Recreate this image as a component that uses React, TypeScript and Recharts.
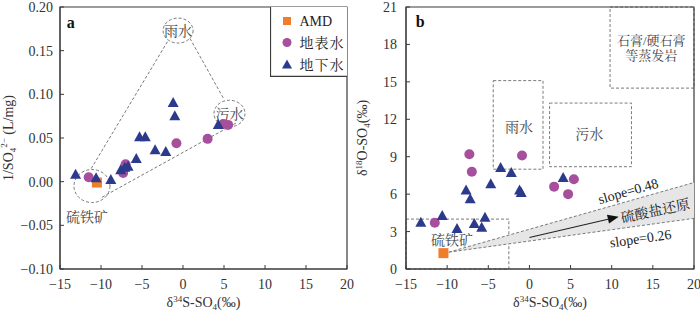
import React from 'react';
import {
  ScatterChart,
  Scatter,
  XAxis,
  YAxis,
  ReferenceArea,
  ReferenceLine,
  ReferenceDot,
  Legend
} from 'recharts';

const SERIF = "'Liberation Serif', 'Times New Roman', serif";
const CJK = "'Liberation Serif', 'Noto Serif CJK SC', 'Noto Sans CJK SC', serif";

const ORANGE = '#f07d2a';
const PURPLE = '#a64f9c';
const NAVY = '#2c3a8c';
const FRAME = '#3a3a3a';
const DASH = '#7a7a7a';
const TEXT = '#333';
const NOTE = '#444';

// 刻度
const xTicks = [-15, -10, -5, 0, 5, 10, 15, 20];
const yTicksA = [-0.1, -0.05, 0, 0.05, 0.1, 0.15, 0.2];
const yTicksB = [0, 3, 6, 9, 12, 15, 18, 21];

// 图a：δ34S-SO4 vs 1/SO4
const amdA = [{ x: -10.5, y: -0.001 }];
const surfaceA = [
  { x: -11.5, y: 0.005 },
  { x: -7.3, y: 0.010 },
  { x: -7.0, y: 0.020 },
  { x: -0.8, y: 0.044 },
  { x: 3.0, y: 0.049 },
  { x: 4.9, y: 0.066 },
  { x: 5.5, y: 0.065 }
];
const groundA = [
  { x: -13.1, y: 0.008 },
  { x: -10.6, y: 0.004 },
  { x: -8.8, y: 0.002 },
  { x: -7.6, y: 0.013 },
  { x: -7.1, y: 0.016 },
  { x: -6.7, y: 0.017 },
  { x: -5.7, y: 0.026 },
  { x: -5.3, y: 0.051 },
  { x: -4.6, y: 0.051 },
  { x: -3.4, y: 0.036 },
  { x: -2.1, y: 0.034 },
  { x: -1.2, y: 0.090 },
  { x: -1.0, y: 0.075 },
  { x: 4.3, y: 0.065 }
];

// 图a 端元圈（雨水、污水、硫铁矿）及连线
const rainA = { x: -0.6, y: 0.173 };
const sewageA = { x: 5.67, y: 0.078 };
const pyriteA = { x: -11.1, y: -0.005 };
const hullA = [
  [{ x: -11.2, y: 0.015 }, { x: -1.85, y: 0.161 }],
  [{ x: 0.85, y: 0.164 }, { x: 4.9, y: 0.096 }],
  [{ x: 6.45, y: 0.067 }, { x: -10.1, y: -0.019 }]
];
const notesA = [
  { x: -0.6, y: 0.173, text: '雨水' },
  { x: 5.67, y: 0.078, text: '污水' },
  { x: -11.7, y: -0.040, text: '硫铁矿' }
];
const letterA = { x: -13.7, y: 0.183, text: 'a' };

// 图b：δ34S-SO4 vs δ18O-SO4
const amdB = [{ x: -10.45, y: 1.27 }];
const surfaceB = [
  { x: -11.5, y: 3.7 },
  { x: -7.3, y: 9.2 },
  { x: -7.0, y: 7.8 },
  { x: -0.9, y: 9.1 },
  { x: 3.0, y: 6.6 },
  { x: 4.7, y: 6.0 },
  { x: 5.4, y: 7.2 }
];
const groundB = [
  { x: -13.2, y: 3.7 },
  { x: -10.6, y: 4.25 },
  { x: -8.8, y: 3.2 },
  { x: -7.7, y: 6.3 },
  { x: -7.2, y: 5.6 },
  { x: -6.7, y: 3.6 },
  { x: -5.8, y: 3.3 },
  { x: -5.4, y: 4.1 },
  { x: -4.7, y: 6.8 },
  { x: -3.5, y: 8.1 },
  { x: -2.2, y: 7.7 },
  { x: -1.2, y: 6.3 },
  { x: -1.0, y: 6.1 },
  { x: 4.1, y: 7.3 }
];

// 图b 端元范围框
const zonesB = [
  { x1: -4.4, x2: 1.65, y1: 8.0, y2: 15.1 },
  { x1: 2.45, x2: 12.4, y1: 8.2, y2: 13.3 },
  { x1: 9.8, x2: 20, y1: 14.5, y2: 21 },
  { x1: -15, x2: -2.5, y1: 0, y2: 4.0 }
];
// 硫酸盐还原楔形区 (起点, slope=0.48 端, slope=0.26 端) 和箭头
const wedgeB = [{ x: -9.8, y: 1.35 }, { x: 20, y: 6.93 }, { x: 20, y: 4.06 }];
const arrowB = [{ x: 0, y: 2.52 }, { x: 10.85, y: 4.19 }];
const notesB = [
  { x: -1.27, y: 11.4, text: '雨水' },
  { x: 7.26, y: 10.83, text: '污水' },
  { x: -9.42, y: 2.33, text: '硫铁矿' }
];
const evaporiteB = [
  { x: 14.8, y: 18.3, text: '石膏/硬石膏' },
  { x: 14.8, y: 17.15, text: '等蒸发岩' }
];
const slopeNotesB = [
  { x: 12.0, y: 6.26, text: 'slope=0.48' },
  { x: 15.3, y: 4.67, text: '硫酸盐还原' },
  { x: 13.5, y: 2.47, text: 'slope=0.26' }
];
const slopeAngles = [-16, -12, -8];
const letterB = { x: -13.27, y: 19.85, text: 'b' };

const fmtX = (v: number) => (v < 0 ? '\u2212' + Math.abs(v) : String(v));
const fmtYA = (v: number) => (v < 0 ? '\u2212' : '') + Math.abs(v).toFixed(2);

// 标记形状
const SquareMark = (p: any) => <rect x={p.cx - 5} y={p.cy - 5} width={10} height={10} fill={ORANGE} />;
const CircleMark = (p: any) => <circle cx={p.cx} cy={p.cy} r={5} fill={PURPLE} />;
const TriangleMark = (p: any) => (
  <polygon
    points={`${p.cx},${p.cy - 6} ${p.cx - 5.5},${p.cy + 4} ${p.cx + 5.5},${p.cy + 4}`}
    fill={NAVY}
  />
);

const Note = ({ cx, cy, text, size = 14, weight = 'normal', angle = 0, color = NOTE }: any) => (
  <text
    x={cx}
    y={cy}
    dy="0.36em"
    textAnchor="middle"
    fontSize={size}
    fontWeight={weight}
    fill={color}
    fontFamily={CJK}
    transform={angle ? `rotate(${angle} ${cx} ${cy})` : undefined}
  >
    {text}
  </text>
);

const ellipse = (rx: number, ry: number) => (p: any) => (
  <ellipse cx={p.cx} cy={p.cy} rx={rx} ry={ry} fill="none" stroke={DASH} strokeDasharray="3 2" />
);

// 楔形区：灰色填充 + 两条虚线
const wedgeShape = (p: any) => {
  const [a, b, c] = p.points;
  return (
    <g>
      <polygon points={`${a.x},${a.y} ${b.x},${b.y} ${c.x},${c.y}`} fill="#e6e6e6" stroke="none" />
      <line x1={a.x} y1={a.y} x2={b.x} y2={b.y} stroke={DASH} strokeDasharray="3 2" />
      <line x1={a.x} y1={a.y} x2={c.x} y2={c.y} stroke={DASH} strokeDasharray="3 2" />
    </g>
  );
};

const arrowShape = (p: any) => {
  const [a, b] = p.points;
  const ang = Math.atan2(b.y - a.y, b.x - a.x);
  const len = 11;
  const half = 4.5;
  const bx = b.x - len * Math.cos(ang);
  const by = b.y - len * Math.sin(ang);
  const nx = -Math.sin(ang) * half;
  const ny = Math.cos(ang) * half;
  return (
    <g>
      <line x1={a.x} y1={a.y} x2={bx} y2={by} stroke="#222" strokeWidth={1.1} />
      <polygon points={`${b.x},${b.y} ${bx + nx},${by + ny} ${bx - nx},${by - ny}`} fill="#111" />
    </g>
  );
};

const SlopeNote = (p: any) => {
  const i = slopeNotesB.indexOf(p.payload);
  return <Note cx={p.cx} cy={p.cy} text={p.payload.text} angle={slopeAngles[i] || 0} color="#222" />;
};

const XTitle = (props: any) => {
  const { x, y, width } = props.viewBox;
  return (
    <text x={x + width / 2} y={y + 38} textAnchor="middle" fontFamily={SERIF} fontSize={14} fill={TEXT}>
      δ<tspan dy={-5} fontSize={9}>34</tspan>
      <tspan dy={5}>S-SO</tspan>
      <tspan dy={3} fontSize={9}>4</tspan>
      <tspan dy={-3}>(‰)</tspan>
    </text>
  );
};

const YTitleA = (props: any) => {
  const { x, y, height } = props.viewBox;
  const cx = x + 13;
  const cy = y + height / 2;
  return (
    <text x={cx} y={cy} textAnchor="middle" fontFamily={SERIF} fontSize={14} fill={TEXT}
      transform={`rotate(-90 ${cx} ${cy})`}>
      1/SO<tspan dy={3} fontSize={9}>4</tspan>
      <tspan dy={-9} fontSize={9}>2−</tspan>
      <tspan dy={6}> (L/mg)</tspan>
    </text>
  );
};

const YTitleB = (props: any) => {
  const { x, y, height } = props.viewBox;
  const cx = x + 17;
  const cy = y + height / 2;
  return (
    <text x={cx} y={cy} textAnchor="middle" fontFamily={SERIF} fontSize={14} fill={TEXT}
      transform={`rotate(-90 ${cx} ${cy})`}>
      δ<tspan dy={-5} fontSize={9}>18</tspan>
      <tspan dy={5}>O-SO</tspan>
      <tspan dy={3} fontSize={9}>4</tspan>
      <tspan dy={-3}>(‰)</tspan>
    </text>
  );
};

const LegendBox = () => {
  const ix = 17;
  const tx = 29.5;
  return (
    <svg width={77} height={70} style={{ display: 'block' }}>
      <rect x={0} y={0} width={77} height={70} fill="#fff" />
      <line x1={0.5} y1={0} x2={0.5} y2={69.5} stroke={FRAME} strokeWidth={1.2} />
      <line x1={0} y1={69.3} x2={77} y2={69.3} stroke={FRAME} strokeWidth={1.2} />
      <rect x={ix - 4} y={14 - 4} width={8} height={8} fill={ORANGE} />
      <text x={tx} y={19} fontFamily={SERIF} fontSize={14} fill="#222">AMD</text>
      <circle cx={ix} cy={35.5} r={4.5} fill={PURPLE} />
      <text x={tx} y={40.5} fontFamily={CJK} fontSize={14} fill="#222" letterSpacing={1}>地表水</text>
      <polygon points={`${ix},${57.5 - 5} ${ix - 5},${57.5 + 4} ${ix + 5},${57.5 + 4}`} fill={NAVY} />
      <text x={tx} y={62.5} fontFamily={CJK} fontSize={14} fill="#222" letterSpacing={1}>地下水</text>
    </svg>
  );
};

const tickStyle = { fill: TEXT, fontSize: 14, fontFamily: SERIF };

const PanelA = () => (
  <ScatterChart width={370} height={315} margin={{ top: 7, right: 23, left: 0, bottom: 0 }}>
    <XAxis
      type="number"
      dataKey="x"
      domain={[-15, 20]}
      ticks={xTicks}
      interval={0}
      tickFormatter={fmtX}
      height={46}
      tick={tickStyle}
      tickSize={-4}
      tickMargin={14}
      tickLine={{ stroke: FRAME }}
      axisLine={{ stroke: FRAME }}
      allowDataOverflow
      label={XTitle}
    />
    <YAxis
      type="number"
      dataKey="y"
      domain={[-0.1, 0.2]}
      ticks={yTicksA}
      interval={0}
      tickFormatter={fmtYA}
      width={60}
      tick={tickStyle}
      tickSize={-4}
      tickMargin={11}
      tickLine={{ stroke: FRAME }}
      axisLine={{ stroke: FRAME }}
      allowDataOverflow
      label={YTitleA}
    />
    <ReferenceArea x1={-15} x2={20} y1={-0.1} y2={0.2} fill="none" stroke={FRAME} strokeWidth={1.2} />
    {hullA.map((seg, i) => (
      <ReferenceLine key={'h' + i} segment={seg} stroke={DASH} strokeDasharray="3 2" />
    ))}
    <ReferenceDot x={rainA.x} y={rainA.y} shape={ellipse(15, 12.5)} />
    <ReferenceDot x={sewageA.x} y={sewageA.y} shape={ellipse(15.5, 13.3)} />
    <ReferenceDot x={pyriteA.x} y={pyriteA.y} shape={ellipse(18, 16.5)} />
    {notesA.map((n, i) => (
      <ReferenceDot key={'n' + i} x={n.x} y={n.y} shape={(p: any) => <Note cx={p.cx} cy={p.cy} text={n.text} />} />
    ))}
    <ReferenceDot x={letterA.x} y={letterA.y}
      shape={(p: any) => <Note cx={p.cx} cy={p.cy} text={letterA.text} size={16} weight="bold" color="#111" />} />
    <Scatter data={amdA} shape={SquareMark} isAnimationActive={false} />
    <Scatter data={surfaceA} shape={CircleMark} isAnimationActive={false} />
    <Scatter data={groundA} shape={TriangleMark} isAnimationActive={false} />
    <Legend
      layout="vertical"
      align="center"
      verticalAlign="middle"
      content={() => <LegendBox />}
      wrapperStyle={{ left: 270, top: 7, width: 77, height: 70 }}
    />
  </ScatterChart>
);

const PanelB = () => (
  <ScatterChart width={350} height={315} margin={{ top: 7, right: 6, left: 0, bottom: 0 }}>
    <XAxis
      type="number"
      dataKey="x"
      domain={[-15, 20]}
      ticks={xTicks}
      interval={0}
      tickFormatter={fmtX}
      height={46}
      tick={tickStyle}
      tickSize={-4}
      tickMargin={14}
      tickLine={{ stroke: FRAME }}
      axisLine={{ stroke: FRAME }}
      allowDataOverflow
      label={XTitle}
    />
    <YAxis
      type="number"
      dataKey="y"
      domain={[0, 21]}
      ticks={yTicksB}
      interval={0}
      width={56}
      tick={tickStyle}
      tickSize={-4}
      tickMargin={13}
      tickLine={{ stroke: FRAME }}
      axisLine={{ stroke: FRAME }}
      allowDataOverflow
      label={YTitleB}
    />
    {zonesB.map((z, i) => (
      <ReferenceArea key={'z' + i} x1={z.x1} x2={z.x2} y1={z.y1} y2={z.y2}
        fill="none" stroke={DASH} strokeDasharray="3 2" />
    ))}
    <ReferenceArea x1={-15} x2={20} y1={0} y2={21} fill="none" stroke={FRAME} strokeWidth={1.2} />
    {notesB.map((n, i) => (
      <ReferenceDot key={'n' + i} x={n.x} y={n.y} shape={(p: any) => <Note cx={p.cx} cy={p.cy} text={n.text} />} />
    ))}
    {evaporiteB.map((n, i) => (
      <ReferenceDot key={'e' + i} x={n.x} y={n.y} shape={(p: any) => <Note cx={p.cx} cy={p.cy} text={n.text} size={13} />} />
    ))}
    <ReferenceDot x={letterB.x} y={letterB.y}
      shape={(p: any) => <Note cx={p.cx} cy={p.cy} text={letterB.text} size={16} weight="bold" color="#111" />} />
    <Scatter data={wedgeB} shape={() => <g />} line={wedgeShape} lineType="joint" isAnimationActive={false} />
    <Scatter data={arrowB} shape={() => <g />} line={arrowShape} lineType="joint" isAnimationActive={false} />
    <Scatter data={slopeNotesB} shape={SlopeNote} isAnimationActive={false} />
    <Scatter data={amdB} shape={SquareMark} isAnimationActive={false} />
    <Scatter data={surfaceB} shape={CircleMark} isAnimationActive={false} />
    <Scatter data={groundB} shape={TriangleMark} isAnimationActive={false} />
  </ScatterChart>
);

export default function App() {
  return (
    <div style={{ position: 'fixed', left: 0, top: 0, width: 700, height: 315, background: '#fff', fontFamily: SERIF }}>
      <div style={{ position: 'absolute', left: 0, top: 0 }}>
        <PanelA />
      </div>
      <div style={{ position: 'absolute', left: 350, top: 0 }}>
        <PanelB />
      </div>
    </div>
  );
}
